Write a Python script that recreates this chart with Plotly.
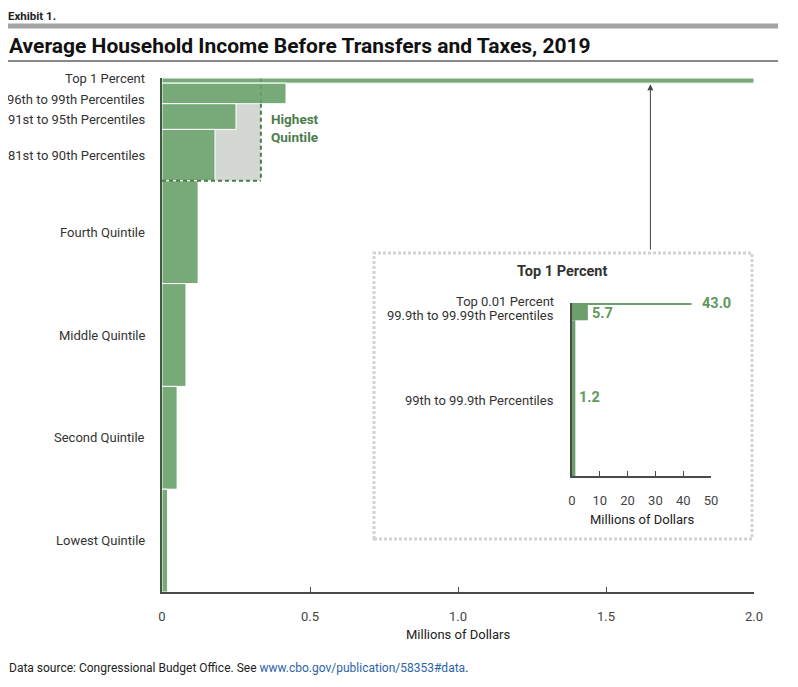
import plotly.graph_objects as go

# ---- data ----
groups = ["Top 1 Percent", "96th to 99th Percentiles", "91st to 95th Percentiles",
          "81st to 90th Percentiles", "Fourth Quintile", "Middle Quintile",
          "Second Quintile", "Lowest Quintile"]
pop_share = [1, 4, 5, 10, 20, 20, 20, 20]          # percent of households
income = [2.0, 0.419, 0.25, 0.179, 0.122, 0.081, 0.051, 0.019]  # millions of dollars

highest_quintile_income = 0.334
highest_quintile_share = 20

top_groups = ["Top 0.01 Percent", "99.9th to 99.99th Percentiles", "99th to 99.9th Percentiles"]
top_share = [1, 9, 90]                              # percent of top 1 percent
top_income = [43.0, 5.7, 1.2]                       # millions of dollars
top_income_text = ["43.0", "5.7", "1.2"]

main_ticks = [0, 0.5, 1.0, 1.5, 2.0]
main_tick_text = ["0", "0.5", "1.0", "1.5", "2.0"]
inset_ticks = [0, 10, 20, 30, 40, 50]

# ---- geometry helpers (screen pixels; page body has an 8px margin) ----
OFF = 8
WIN_W, WIN_H = 798, 687
W, H = WIN_W - OFF, WIN_H - OFF
L, R, T, B = 162, 754, 78, 592


def px(x):
    return (x - L) / (R - L)


def py(y):
    return (B - y) / (B - T)


def centers(shares):
    out, cum = [], 0
    for s in shares:
        out.append(cum + s / 2)
        cum += s
    return out


GREEN = "#78a978"
DARK_GREEN = "#4b7d4b"
TEXT = "#333333"
AXIS = "#4a4a4a"
FONT = "Roboto"

main_y = centers(pop_share)
top_y = centers(top_share)

fig = go.Figure()

fig.add_trace(go.Bar(
    x=income, y=main_y, width=pop_share, orientation="h",
    marker=dict(color=GREEN, line=dict(color="white", width=1)),
    hoverinfo="skip", xaxis="x", yaxis="y", showlegend=False,
))

fig.add_trace(go.Bar(
    x=top_income, y=top_y, width=top_share, orientation="h",
    marker=dict(color="#6c9f6c", line=dict(width=0)),
    hoverinfo="skip", xaxis="x2", yaxis="y2", showlegend=False,
))

# inset domain
ix0, ix1 = px(572), px(711)
iy0, iy1 = py(476), py(303)

fig.update_layout(
    width=W, height=H,
    margin=dict(l=L - OFF, r=WIN_W - R, t=T - OFF, b=WIN_H - B),
    paper_bgcolor="white", plot_bgcolor="white",
    font=dict(family=FONT, size=13, color=TEXT),
    xaxis=dict(range=[0, 2.0], domain=[0, 1], tickvals=main_ticks, ticktext=main_tick_text,
               ticks="inside", ticklen=5, tickcolor=AXIS, showline=True, linecolor=AXIS,
               linewidth=1.5, showgrid=False, zeroline=False, ticklabelstandoff=12,
               tickfont=dict(size=13, color="#444")),
    yaxis=dict(range=[100, 0], domain=[0, 1], showticklabels=False, ticks="",
               showline=True, linecolor="#3f5a3f", linewidth=1.5, showgrid=False, zeroline=False),
    xaxis2=dict(range=[0, 50], domain=[ix0, ix1], anchor="y2", tickvals=inset_ticks,
                ticks="inside", ticklen=5, tickcolor=AXIS, showline=True, linecolor=AXIS,
                linewidth=1.5, showgrid=False, zeroline=False, ticklabelstandoff=12,
                tickfont=dict(size=13, color="#444")),
    yaxis2=dict(range=[100, 0], domain=[iy0, iy1], anchor="x2", showticklabels=False,
                ticks="", showline=True, linecolor=AXIS, linewidth=1.5, showgrid=False,
                zeroline=False),
)

shapes = []
# header bar and title rule
shapes.append(dict(type="rect", xref="paper", yref="paper", x0=px(8), x1=px(778),
                   y0=py(28.5), y1=py(23.5), fillcolor="#a3a3a3", line=dict(width=0)))
shapes.append(dict(type="line", xref="paper", yref="paper", x0=px(8), x1=px(778),
                   y0=py(61), y1=py(61), line=dict(color="#111", width=1)))
# highest quintile box
shapes.append(dict(type="rect", xref="x", yref="y", x0=0, x1=highest_quintile_income,
                   y0=0, y1=highest_quintile_share, fillcolor="#d4d8d4",
                   line=dict(width=0), layer="below"))
shapes.append(dict(type="line", xref="x", yref="y", x0=highest_quintile_income,
                   x1=highest_quintile_income, y0=0, y1=pop_share[0] + pop_share[1],
                   line=dict(color=DARK_GREEN, width=2, dash="4px,3px"), opacity=0.3))
shapes.append(dict(type="line", xref="x", yref="y", x0=highest_quintile_income,
                   x1=highest_quintile_income, y0=pop_share[0] + pop_share[1],
                   y1=highest_quintile_share,
                   line=dict(color=DARK_GREEN, width=2, dash="4px,3px")))
shapes.append(dict(type="line", xref="x", yref="y", x0=0, x1=highest_quintile_income,
                   y0=highest_quintile_share, y1=highest_quintile_share,
                   line=dict(color=DARK_GREEN, width=2, dash="4px,3px")))
# inset frame
shapes.append(dict(type="rect", xref="paper", yref="paper", x0=px(374), x1=px(752),
                   y0=py(539), y1=py(253), fillcolor="rgba(0,0,0,0)",
                   line=dict(color="#d3d3d3", width=3, dash="3px,2px")))

annotations = []
annotations.append(dict(text="<b>Exhibit 1.</b>", xref="paper", yref="paper", x=px(7), y=py(8),
                        xanchor="left", yanchor="top", showarrow=False, borderpad=0,
                        font=dict(size=11.5, color="#222")))
annotations.append(dict(text="<b>Average Household Income Before Transfers and Taxes, 2019</b>",
                        xref="paper", yref="paper", x=px(7), y=py(46), xanchor="left",
                        yanchor="middle", showarrow=False, font=dict(size=21, color="#111")))
annotations.append(dict(text="Data source: Congressional Budget Office. See "
                             "<span style='color:#2b64a8'>www.cbo.gov/publication/58353#data</span>.",
                        xref="paper", yref="paper", x=px(7), y=py(668), xanchor="left",
                        yanchor="middle", showarrow=False, font=dict(size=12, color="#222")))

label_shift = [2, -6, -3, 0, 0, 0, 0, 0]
for g, yc, sh in zip(groups, main_y, label_shift):
    annotations.append(dict(text=g, xref="x", yref="y", x=0, y=yc, xanchor="right",
                            yanchor="middle", xshift=-15, yshift=sh, showarrow=False,
                            font=dict(size=13, color=TEXT)))

annotations.append(dict(text="<b>Highest<br>Quintile</b>", xref="x", yref="y",
                        x=highest_quintile_income, y=9.7, xanchor="left", yanchor="middle",
                        xshift=8, showarrow=False, align="left",
                        font=dict(size=13.5, color=DARK_GREEN)))

annotations.append(dict(text="Millions of Dollars", xref="paper", yref="paper", x=0.5, y=py(634),
                        xanchor="center", yanchor="middle", showarrow=False,
                        font=dict(size=13, color="#222")))

# arrow from inset to top 1 percent bar
annotations.append(dict(text="", xref="x", yref="y", x=1.65, y=pop_share[0] + 0.2,
                        ax=0, ay=167, axref="pixel", ayref="pixel", showarrow=True,
                        arrowhead=2, arrowsize=1.2, arrowwidth=1, arrowcolor="#444"))

# inset texts
annotations.append(dict(text="<b>Top 1 Percent</b>", xref="paper", yref="paper", x=px(562),
                        y=py(271), xanchor="center", yanchor="middle", showarrow=False,
                        font=dict(size=14.5, color="#333")))
inset_label_shift = [2, -3, -2]
for g, yc, sh in zip(top_groups, top_y, inset_label_shift):
    annotations.append(dict(text=g, xref="x2", yref="y2", x=0, y=yc, xanchor="right",
                            yanchor="middle", xshift=-16, yshift=sh, showarrow=False,
                            font=dict(size=13, color=TEXT)))
value_shift = [(8, 0), (2, -1), (2, 1)]
for v, t, yc, (dx, dy) in zip(top_income, top_income_text, top_y, value_shift):
    annotations.append(dict(text=f"<b>{t}</b>", xref="x2", yref="y2", x=v, y=yc,
                            xanchor="left", yanchor="middle", xshift=dx, yshift=dy,
                            showarrow=False, font=dict(size=14.5, color="#5e9a5e")))
annotations.append(dict(text="Millions of Dollars", xref="paper", yref="paper",
                        x=(ix0 + ix1) / 2, y=py(519), xanchor="center", yanchor="middle",
                        showarrow=False, font=dict(size=13, color="#222")))

fig.update_layout(shapes=shapes, annotations=annotations)

fig.write_html("out.html")
